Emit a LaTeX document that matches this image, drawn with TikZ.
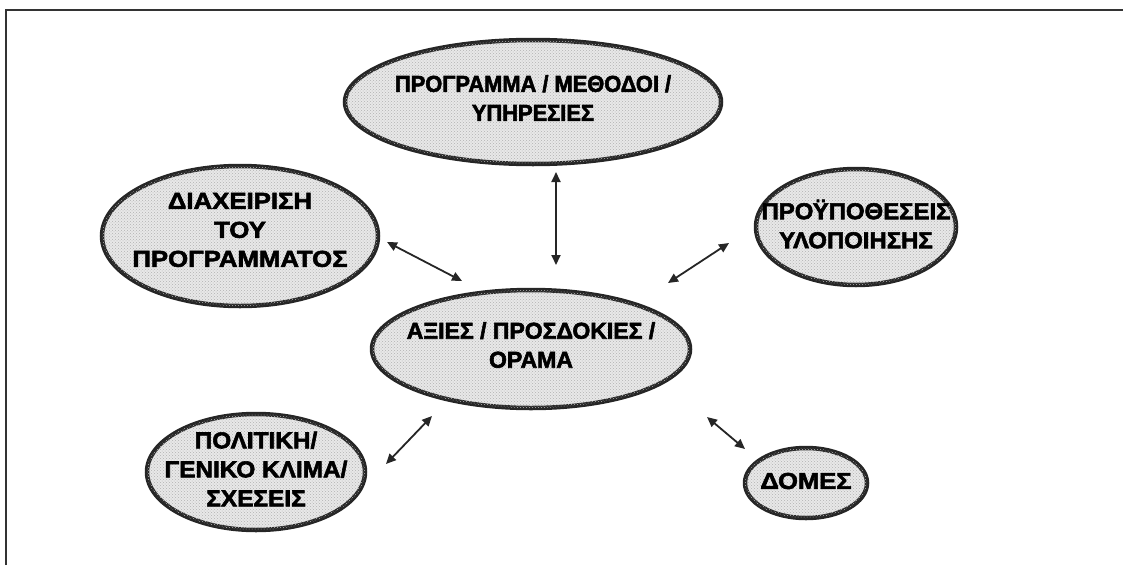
\documentclass[tikz,border=0pt]{standalone}
\usepackage{fontspec}
\setmainfont{Liberation Sans}
\newfontfamily\fprog{Liberation Sans}[FakeStretch=0.95, BoldFeatures={FakeBold=2.5}]
\newfontfamily\fdiax{Liberation Sans}[FakeStretch=1.12, BoldFeatures={FakeBold=2.5}]
\newfontfamily\fproy{Liberation Sans}[FakeStretch=1.04, BoldFeatures={FakeBold=2.5}]
\newfontfamily\faxies{Liberation Sans}[FakeStretch=1.0, BoldFeatures={FakeBold=2.5}]
\newfontfamily\fpol{Liberation Sans}[FakeStretch=1.06, BoldFeatures={FakeBold=2.5}]
\newfontfamily\fdomes{Liberation Sans}[FakeStretch=1.11, BoldFeatures={FakeBold=2.5}]
\usetikzlibrary{shapes.geometric,arrows.meta,patterns}
\begin{document}
\begin{tikzpicture}[x=1pt,y=-1pt,
  bubble/.style={ellipse, draw=black!85, line width=4.5pt, fill=gray!18,
    postaction={pattern=crosshatch dots, pattern color=gray!60},
    inner sep=0pt},
  tx/.style={align=center, text=black, inner sep=0pt, font=#1\bfseries\fontsize{23}{29}\selectfont},
  link/.style={{Triangle[length=10pt,width=9pt]}-{Triangle[length=10pt,width=9pt]}, line width=1.8pt, draw=black!85},
  frame/.style={line width=2pt, draw=black!80}]
\useasboundingbox (0,0) rectangle (1123,565);
\draw[frame] (6,565) -- (6,10) -- (1123,10);

\node[bubble, minimum width=376pt, minimum height=124pt] (prog) at (533,102) {};
\node[bubble, minimum width=276pt, minimum height=140pt] (diax) at (240,236) {};
\node[bubble, minimum width=200pt, minimum height=116pt] (proy) at (856,227) {};
\node[bubble, minimum width=318pt, minimum height=118pt] (axies) at (531,349) {};
\node[bubble, minimum width=218pt, minimum height=116pt] (pol) at (256,472) {};
\node[bubble, minimum width=122pt, minimum height=70pt] (domes) at (806,483) {};

\node[tx=\fprog] (prog-t) at ([yshift=4pt]prog.center) {ΠΡΟΓΡΑΜΜΑ / ΜΕΘΟΔΟΙ /\\ΥΠΗΡΕΣΙΕΣ};
\node[tx=\fdiax] (diax-t) at ([yshift=6pt]diax.center) {ΔΙΑΧΕΙΡΙΣΗ\\ΤΟΥ\\ΠΡΟΓΡΑΜΜΑΤΟΣ};
\node[tx=\fproy] (proy-t) at ([yshift=3pt]proy.center) {ΠΡΟΫΠΟΘΕΣΕΙΣ\\ΥΛΟΠΟΙΗΣΗΣ};
\node[tx=\faxies] (axies-t) at ([yshift=4pt]axies.center) {ΑΞΙΕΣ / ΠΡΟΣΔΟΚΙΕΣ /\\ΟΡΑΜΑ};
\node[tx=\fpol] (pol-t) at ([yshift=3pt]pol.center) {ΠΟΛΙΤΙΚΗ/\\ΓΕΝΙΚΟ ΚΛΙΜΑ/\\ΣΧΕΣΕΙΣ};
\node[tx=\fdomes] (domes-t) at ([yshift=2pt]domes.center) {ΔΟΜΕΣ};

\coordinate (a1) at (556,172); \coordinate (b1) at (556,265);
\coordinate (a2) at (387,242); \coordinate (b2) at (462,281);
\coordinate (a3) at (729,243); \coordinate (b3) at (668,283);
\coordinate (a4) at (386,464); \coordinate (b4) at (432,416);
\coordinate (a5) at (707,417); \coordinate (b5) at (745,449);

\draw[link] (a1) -- (b1);
\draw[link] (a2) -- (b2);
\draw[link] (a3) -- (b3);
\draw[link] (a4) -- (b4);
\draw[link] (a5) -- (b5);
\end{tikzpicture}
\end{document}
